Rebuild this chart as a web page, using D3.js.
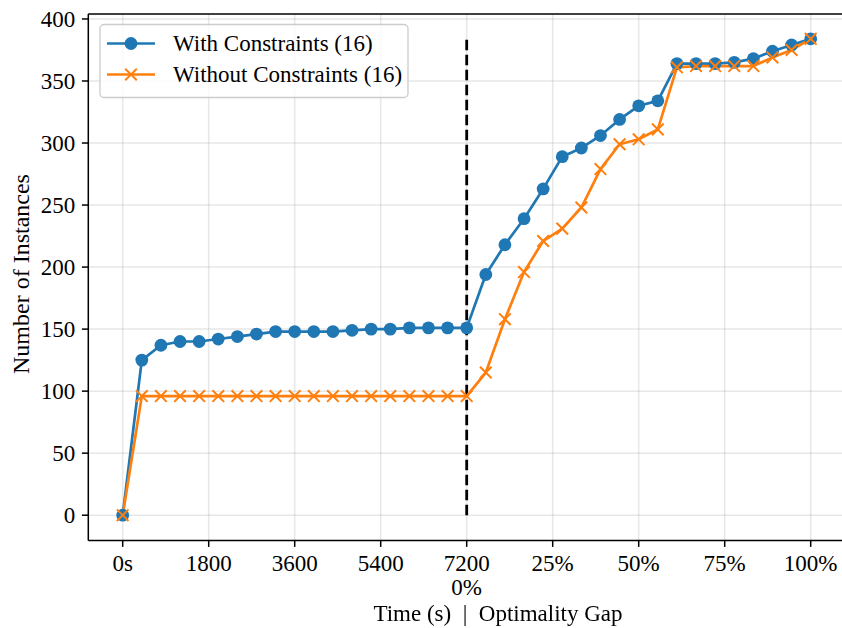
<!DOCTYPE html>
<html>
<head>
<meta charset="utf-8">
<script src="https://cdn.jsdelivr.net/npm/d3@7"></script>
<style>
  html, body { margin: 0; padding: 0; background: #fff; }
  svg { display: block; }
  text { font-family: "Liberation Serif", "Times New Roman", serif; fill: #000; }
</style>
</head>
<body>
<svg id="chart" width="842" height="628"></svg>
<script>
// ---------- data ----------
// step index along the combined axis: 0..18 = time (0s..7200s), 18..36 = optimality gap (0%..100%)
const withConstraints = [
  0, 125, 137, 140, 140, 142, 144, 146, 148, 148, 148, 148, 149, 150, 150, 151, 151, 151, 151,
  194, 218, 239, 263, 289, 296, 306, 319, 330, 334, 364, 364, 364, 365, 368, 374, 379, 384
];
const withoutConstraints = [
  0, 96, 96, 96, 96, 96, 96, 96, 96, 96, 96, 96, 96, 96, 96, 96, 96, 96, 96,
  115, 158, 196, 221, 231, 248, 279, 299, 303, 311, 361, 362, 362, 362, 362, 369, 375, 384
];
const seriesNames = ["With Constraints (16)", "Without Constraints (16)"];
const seriesColors = ["#1f77b4", "#ff7f0e"];
const xTickPositions = [0, 4.5, 9, 13.5, 18, 22.5, 27, 31.5, 36];
const xTickLabels = [["0s"], ["1800"], ["3600"], ["5400"], ["7200", "0%"], ["25%"], ["50%"], ["75%"], ["100%"]];
const yTicks = [0, 50, 100, 150, 200, 250, 300, 350, 400];
const dividerIndex = 18;
const dividerTop = 385;

// ---------- layout ----------
const svg = d3.select("#chart");
const pL = 88.3, pR = 845.1, pT = 14, pB = 540.5;
const x = d3.scaleLinear().domain([-1.8, 37.8]).range([pL, pR]);
const y = d3.scaleLinear().domain([-20.4, 404]).range([pB, pT]);
const FONT = 23;

// grayscale-AA filter for text
const defs = svg.append("defs");
defs.append("filter").attr("id", "gray").append("feOffset").attr("dx", 0).attr("dy", 0);

// grid
const grid = svg.append("g");
grid.selectAll("line.gx").data(xTickPositions).enter().append("line")
  .attr("x1", d => x(d)).attr("x2", d => x(d)).attr("y1", pT).attr("y2", pB)
  .attr("stroke", "#b0b0b0").attr("stroke-opacity", 0.3).attr("stroke-width", 1.5);
grid.selectAll("line.gy").data(yTicks).enter().append("line")
  .attr("x1", pL).attr("x2", pR).attr("y1", d => y(d)).attr("y2", d => y(d))
  .attr("stroke", "#b0b0b0").attr("stroke-opacity", 0.3).attr("stroke-width", 1.5);

// divider
svg.append("line")
  .attr("x1", x(dividerIndex)).attr("x2", x(dividerIndex))
  .attr("y1", y(0)).attr("y2", y(dividerTop))
  .attr("stroke", "#000").attr("stroke-width", 2.8).attr("stroke-dasharray", "10.5,4.5");

// series
const data = [withConstraints, withoutConstraints];
const line = d3.line().x((d, i) => x(i)).y(d => y(d));
data.forEach((vals, s) => {
  svg.append("path").datum(vals).attr("d", line)
    .attr("fill", "none").attr("stroke", seriesColors[s]).attr("stroke-width", 2.7)
    .attr("stroke-linejoin", "round");
});
// markers: circles
svg.append("g").selectAll("circle").data(withConstraints).enter().append("circle")
  .attr("cx", (d, i) => x(i)).attr("cy", d => y(d)).attr("r", 6.4)
  .attr("fill", seriesColors[0]);
// markers: x
const xm = 5.8;
svg.append("g").selectAll("path").data(withoutConstraints).enter().append("path")
  .attr("d", (d, i) => {
    const cx = x(i), cy = y(d);
    return `M${cx - xm},${cy - xm}L${cx + xm},${cy + xm}M${cx - xm},${cy + xm}L${cx + xm},${cy - xm}`;
  })
  .attr("stroke", seriesColors[1]).attr("stroke-width", 2).attr("fill", "none");

// spines
svg.append("line").attr("x1", pL).attr("x2", pL).attr("y1", pT).attr("y2", pB)
  .attr("stroke", "#000").attr("stroke-width", 1.5);
svg.append("line").attr("x1", pL).attr("x2", pR).attr("y1", pB).attr("y2", pB)
  .attr("stroke", "#000").attr("stroke-width", 1.5);
svg.append("line").attr("x1", pL).attr("x2", pR).attr("y1", pT).attr("y2", pT)
  .attr("stroke", "#000").attr("stroke-width", 1.5);
svg.append("line").attr("x1", pR).attr("x2", pR).attr("y1", pT).attr("y2", pB)
  .attr("stroke", "#000").attr("stroke-width", 1.5);

// y axis ticks
const yAx = svg.append("g");
yTicks.forEach(t => {
  yAx.append("line").attr("x1", pL - 6.4).attr("x2", pL).attr("y1", y(t)).attr("y2", y(t))
    .attr("stroke", "#000").attr("stroke-width", 1.5);
  yAx.append("text").attr("x", pL - 13).attr("y", y(t) + 7.8)
    .attr("text-anchor", "end").style("font-size", FONT + "px").text(t);
});

// x axis ticks
const xAx = svg.append("g");
xTickPositions.forEach((p, i) => {
  xAx.append("line").attr("x1", x(p)).attr("x2", x(p)).attr("y1", pB).attr("y2", pB + 6.4)
    .attr("stroke", "#000").attr("stroke-width", 1.5);
  xTickLabels[i].forEach((lab, k) => {
    xAx.append("text").attr("x", x(p)).attr("y", 570.5 + k * 24.5)
      .attr("text-anchor", "middle").style("font-size", FONT + "px").text(lab);
  });
});

// axis labels
svg.append("g").attr("filter", "url(#gray)")
  .append("text").attr("x", 498).attr("y", 621).attr("text-anchor", "middle")
  .style("font-size", FONT + "px").style("white-space", "pre")
  .text("Time (s)  |  Optimality Gap");
svg.append("text").attr("transform", "translate(29,274) rotate(-90)")
  .attr("text-anchor", "middle").style("font-size", "24px").text("Number of Instances");

// legend
const lg = svg.append("g");
lg.append("rect").attr("x", 100).attr("y", 24.5).attr("width", 308).attr("height", 73)
  .attr("rx", 4).attr("fill", "#fff").attr("fill-opacity", 0.8)
  .attr("stroke", "#cccccc").attr("stroke-width", 1.3);
const rows = [43.5, 74.5];
rows.forEach((ry, s) => {
  lg.append("line").attr("x1", 107).attr("x2", 155).attr("y1", ry).attr("y2", ry)
    .attr("stroke", seriesColors[s]).attr("stroke-width", 2.7);
  if (s === 0) {
    lg.append("circle").attr("cx", 131).attr("cy", ry).attr("r", 6.4).attr("fill", seriesColors[0]);
  } else {
    lg.append("path")
      .attr("d", `M${131 - xm},${ry - xm}L${131 + xm},${ry + xm}M${131 - xm},${ry + xm}L${131 + xm},${ry - xm}`)
      .attr("stroke", seriesColors[1]).attr("stroke-width", 2);
  }
  lg.append("text").attr("x", 173).attr("y", ry + 7.8).style("font-size", FONT + "px").text(seriesNames[s]);
});
</script>
</body>
</html>
